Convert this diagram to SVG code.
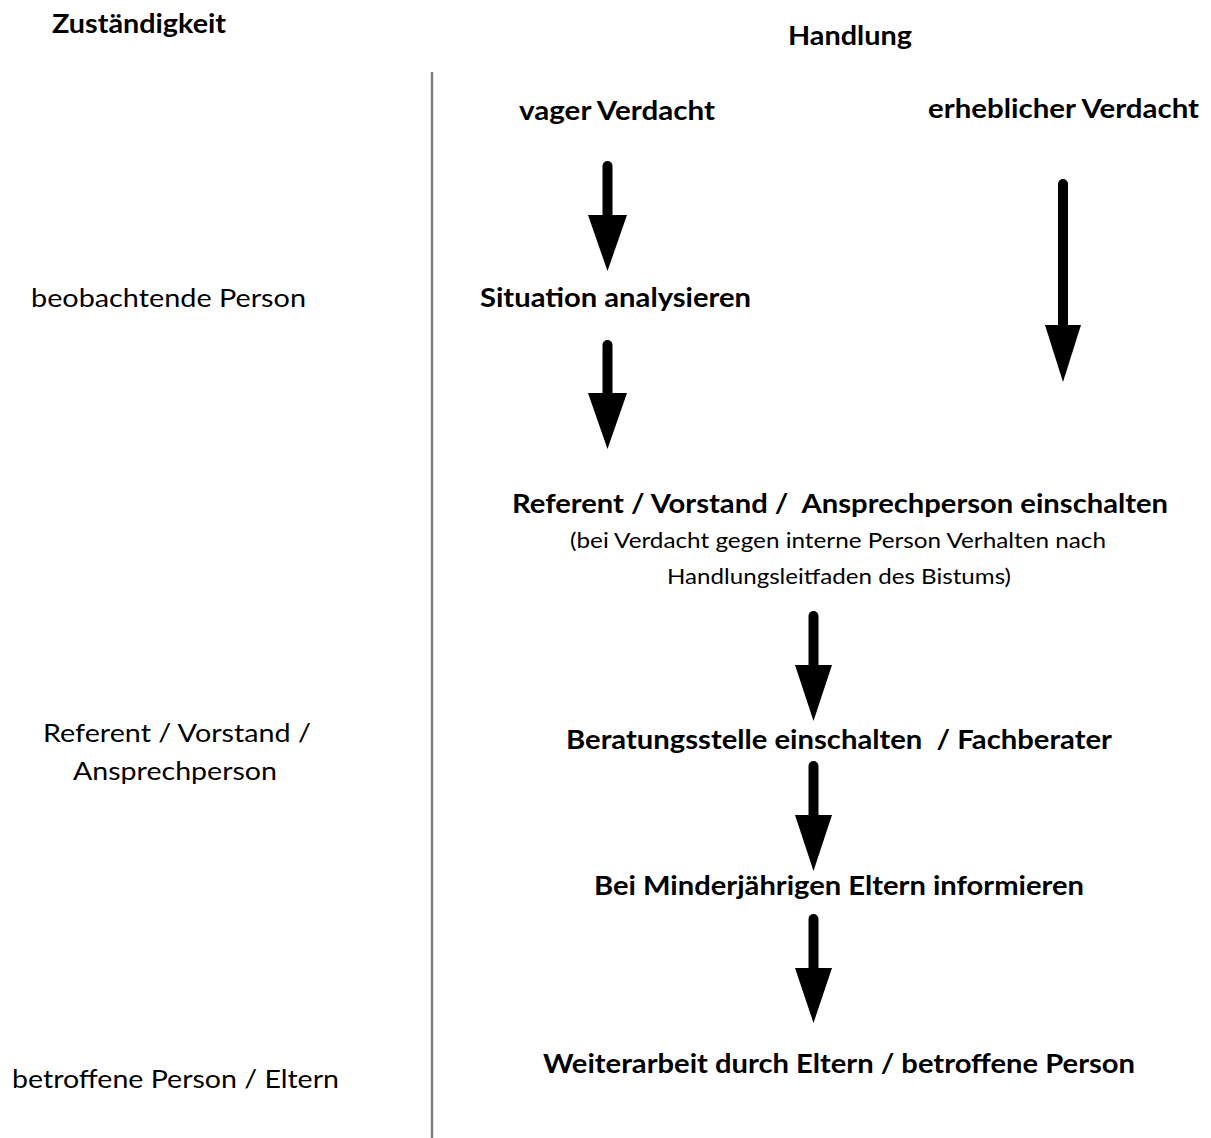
<svg xmlns="http://www.w3.org/2000/svg" width="1211" height="1138" viewBox="0 0 1211 1138">
<style>
text{font-family:Lato,"Open Sans","Liberation Sans",sans-serif;fill:#000}
.b{font-weight:bold;font-size:27px}
.n{font-size:25px}
.s{font-size:21px}
.pre{white-space:pre}
.shaft{stroke:#000;stroke-width:10;stroke-linecap:round;fill:none}
.head{fill:#000}
</style>
<rect width="1211" height="1138" fill="#fff"/>
<line x1="432" y1="72" x2="432" y2="1138" stroke="#7f7f7f" stroke-width="2.5"/>
<g id="col-zustaendigkeit">
<text class="b" x="52" y="33" textLength="174" lengthAdjust="spacingAndGlyphs">Zuständigkeit</text>
</g>
<g id="col-handlung">
<text class="b" x="788" y="45" textLength="124" lengthAdjust="spacingAndGlyphs">Handlung</text>
</g>
<g id="role-beobachtende">
<text class="n" x="31" y="307" textLength="275" lengthAdjust="spacingAndGlyphs">beobachtende Person</text>
</g>
<g id="role-referent">
<text class="n" x="43" y="742" textLength="268" lengthAdjust="spacingAndGlyphs">Referent / Vorstand /</text>
<text class="n" x="73" y="780" textLength="204" lengthAdjust="spacingAndGlyphs">Ansprechperson</text>
</g>
<g id="role-betroffene">
<text class="n" x="12" y="1088" textLength="327" lengthAdjust="spacingAndGlyphs">betroffene Person / Eltern</text>
</g>
<g id="vager-verdacht">
<text class="b" x="519" y="120" textLength="196" lengthAdjust="spacingAndGlyphs">vager Verdacht</text>
</g>
<g id="erheblicher-verdacht">
<text class="b" x="928" y="118" textLength="271" lengthAdjust="spacingAndGlyphs">erheblicher Verdacht</text>
</g>
<g id="situation">
<text class="b" x="480" y="307" textLength="271" lengthAdjust="spacingAndGlyphs">Situation analysieren</text>
</g>
<g id="referent-einschalten">
<text class="b pre" x="512" y="513" textLength="656" lengthAdjust="spacingAndGlyphs">Referent / Vorstand /  Ansprechperson einschalten</text>
<text class="s" x="570" y="548" textLength="536" lengthAdjust="spacingAndGlyphs">(bei Verdacht gegen interne Person Verhalten nach</text>
<text class="s" x="667" y="584" textLength="344" lengthAdjust="spacingAndGlyphs">Handlungsleitfaden des Bistums)</text>
</g>
<g id="beratungsstelle">
<text class="b pre" x="566" y="749" textLength="546" lengthAdjust="spacingAndGlyphs">Beratungsstelle einschalten  / Fachberater</text>
</g>
<g id="eltern-informieren">
<text class="b" x="594" y="895" textLength="490" lengthAdjust="spacingAndGlyphs">Bei Minderjährigen Eltern informieren</text>
</g>
<g id="weiterarbeit">
<text class="b" x="543" y="1073" textLength="592" lengthAdjust="spacingAndGlyphs">Weiterarbeit durch Eltern / betroffene Person</text>
</g>
<g id="connectors">
<line class="shaft" x1="607.5" y1="166" x2="607.5" y2="220"/>
<polygon class="head" points="588,215 627,215 607.5,271"/>
<line class="shaft" x1="607.5" y1="345" x2="607.5" y2="398"/>
<polygon class="head" points="588,393 627,393 607.5,449"/>
<line class="shaft" x1="1063" y1="184" x2="1063" y2="330"/>
<polygon class="head" points="1045,325 1081,325 1063,382"/>
<line class="shaft" x1="813.5" y1="616" x2="813.5" y2="670"/>
<polygon class="head" points="795,665 832,665 813.5,721"/>
<line class="shaft" x1="813.5" y1="766" x2="813.5" y2="820"/>
<polygon class="head" points="795,815 832,815 813.5,871"/>
<line class="shaft" x1="813.5" y1="919" x2="813.5" y2="973"/>
<polygon class="head" points="795,968 832,968 813.5,1023"/>
</g>
</svg>
